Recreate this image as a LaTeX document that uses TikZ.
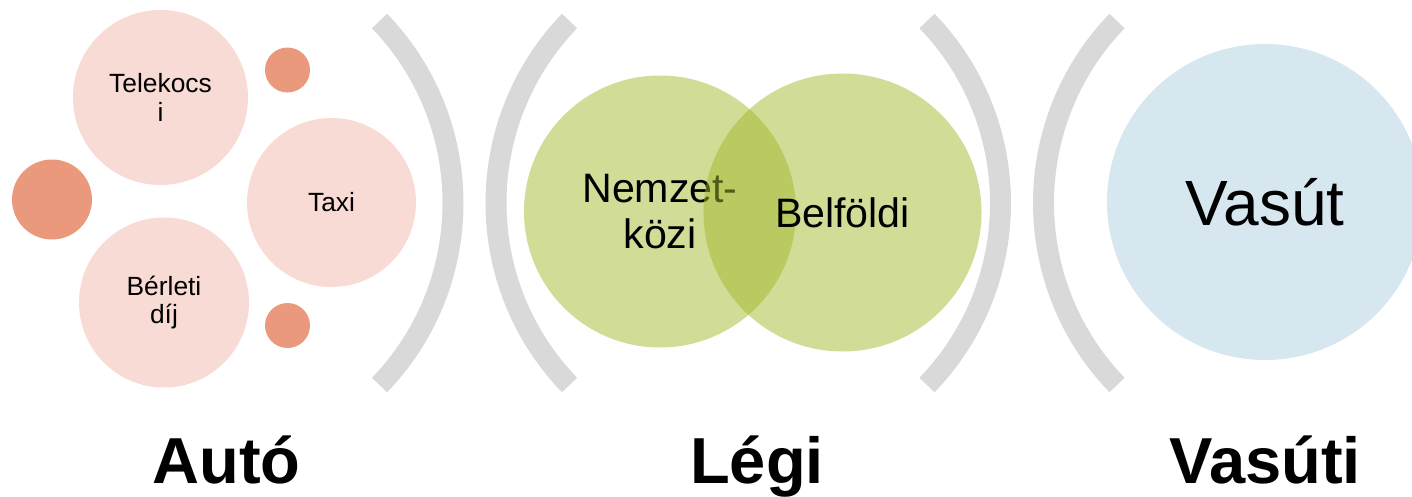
\documentclass[tikz,border=0pt]{standalone}
\usepackage{fontspec}
\setmainfont{Liberation Sans}
\definecolor{autolight}{HTML}{F8DBD4}
\definecolor{autodark}{HTML}{EB997D}
\definecolor{legigreen}{HTML}{A3B92D}
\definecolor{vasutblue}{HTML}{D7E7F0}
\definecolor{bracketgray}{HTML}{D9D9D9}
\begin{document}
\begin{tikzpicture}[every node/.style={circle, inner sep=0pt, align=center},
    autocircle/.style={fill=autolight, font=\fontsize{7.5}{8}\selectfont},
    autodot/.style={fill=autodark},
    legicircle/.style={fill=legigreen, fill opacity=0.5, text opacity=1, font=\fontsize{11.7}{13.1}\selectfont},
    bracket/.style={draw=bracketgray, line width=0.21cm},
    grouplabel/.style={rectangle, anchor=base, font=\fontsize{18.5}{20}\selectfont\bfseries}]
    \useasboundingbox (0,0) rectangle (14.12,4.96);
        % brackets
        \coordinate (b1) at (1.91,2.93);
        \coordinate (b2) at (7.58,2.93);
        \coordinate (b3) at (7.385,2.93);
        \coordinate (b4) at (13.055,2.93);
        \foreach \c/\s/\e in {b1/-44/44, b2/136/224, b3/-44/44, b4/136/224}
        \draw[bracket] ([shift={(\s:2.62)}]\c) arc[start angle=\s, end angle=\e, radius=2.62];
        % Auto
        \node[autocircle, minimum size=1.75cm] (tele) at (1.605,3.985) {Telekocs\\i};
        \node[autocircle, minimum size=1.69cm] (taxi) at (3.315,2.935) {Taxi};
        \node[autocircle, minimum size=1.70cm] (berlet) at (1.64,1.935) {Bérleti\\díj};
        \node[autodot, minimum size=0.80cm] (dotbig) at (0.52,2.965) {};
        \node[autodot, minimum size=0.45cm] (dottop) at (2.875,4.26) {};
        \node[autodot, minimum size=0.45cm] (dotbot) at (2.875,1.705) {};
        % Legi
        \node[legicircle, minimum size=2.72cm] (nemzet) at (6.60,2.845) {Nemzet-\\közi};
        \node[legicircle, minimum size=2.78cm] (belfold) at (8.425,2.835) {Belföldi};
        % Vasut
        \node[fill=vasutblue, minimum size=3.16cm, font=\fontsize{18.2}{20}\selectfont] (vasut) at (12.65,2.94) {Vasút};
        % labels
        \node[grouplabel] (auto) at (2.265,0.13) {Autó};
        \node[grouplabel] (legi) at (7.57,0.13) {Légi};
        \node[grouplabel] (vasuti) at (12.65,0.13) {Vasúti};
    \end{tikzpicture}
\end{document}
